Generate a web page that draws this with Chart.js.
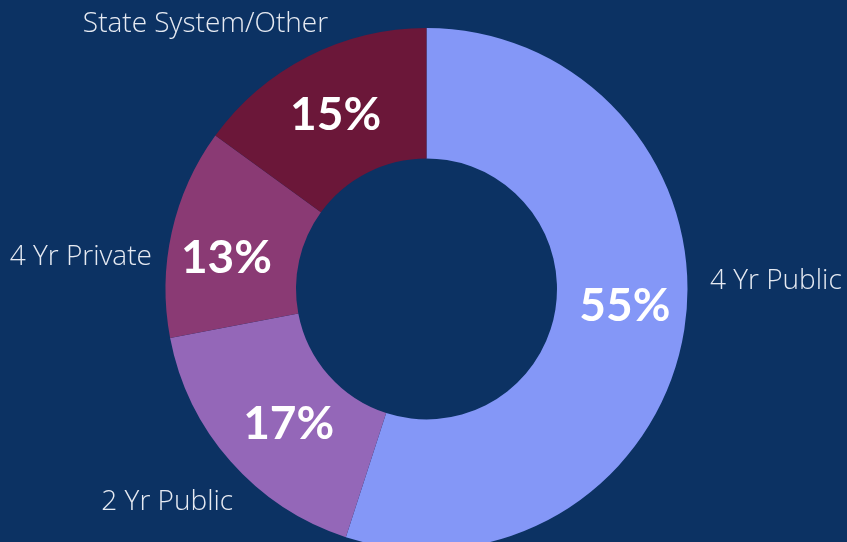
<!DOCTYPE html>
<html>
<head>
<meta charset="utf-8">
<script src="https://cdn.jsdelivr.net/npm/chart.js@4/dist/chart.umd.min.js"></script>
<style>
  html, body { margin: 0; padding: 0; background: #0C3263; overflow: hidden; }
  #wrap { position: absolute; left: 0; top: 0; width: 847px; height: 578px; }
</style>
</head>
<body>
<div id="wrap"><canvas id="grafico"></canvas></div>
<script>
const categorias = ['4 Yr Public', '2 Yr Public', '4 Yr Private', 'State System/Other'];
const valores = [55, 17, 13, 15];
const colores = ['#8497F7', '#9467B8', '#8A3A74', '#6B1739'];

// where each outside label sits, in units of the outer radius from the centre
const posEtiquetas = [
    { kx: 1.086, ky: -0.03, align: 'left' },
    { kx: -0.741, ky: 0.816, align: 'right' },
    { kx: -1.052, ky: -0.122, align: 'right' },
    { kx: -0.377, ky: -1.015, align: 'right' }
];
// small nudges for the percentages, in px
const ajustes = [[5, -13], [9, 6], [-9, 12], [-2, 1]];

const etiquetas = {
    id: 'etiquetas',
    afterDatasetsDraw(chart) {
        const ctx = chart.ctx;
        const meta = chart.getDatasetMeta(0);
        const total = valores.reduce((a, b) => a + b, 0);
        ctx.save();
        ctx.textBaseline = 'middle';
        meta.data.forEach((arc, i) => {
            const p = arc.tooltipPosition();
            ctx.fillStyle = '#FFFFFF';
            ctx.textAlign = 'center';
            ctx.font = 'bold 46px Lato';
            ctx.fillText(Math.round(valores[i] / total * 100) + '%', p.x + ajustes[i][0], p.y + ajustes[i][1]);

            const pos = posEtiquetas[i];
            ctx.fillStyle = '#E6EAF2';
            ctx.textAlign = pos.align;
            ctx.font = '300 28px "Open Sans"';
            ctx.fillText(categorias[i], arc.x + pos.kx * arc.outerRadius, arc.y + pos.ky * arc.outerRadius);
        });
        ctx.restore();
    }
};

new Chart(document.getElementById('grafico').getContext('2d'), {
    type: 'doughnut',
    data: {
        labels: categorias,
        datasets: [{
            data: valores,
            backgroundColor: colores,
            borderWidth: 0
        }]
    },
    options: {
        responsive: true,
        maintainAspectRatio: false,
        animation: false,
        cutout: '50%',
        layout: { padding: { top: 28, bottom: 28, left: 6, right: 0 } },
        plugins: {
            legend: { display: false },
            tooltip: { enabled: false }
        }
    },
    plugins: [etiquetas]
});
</script>
</body>
</html>
